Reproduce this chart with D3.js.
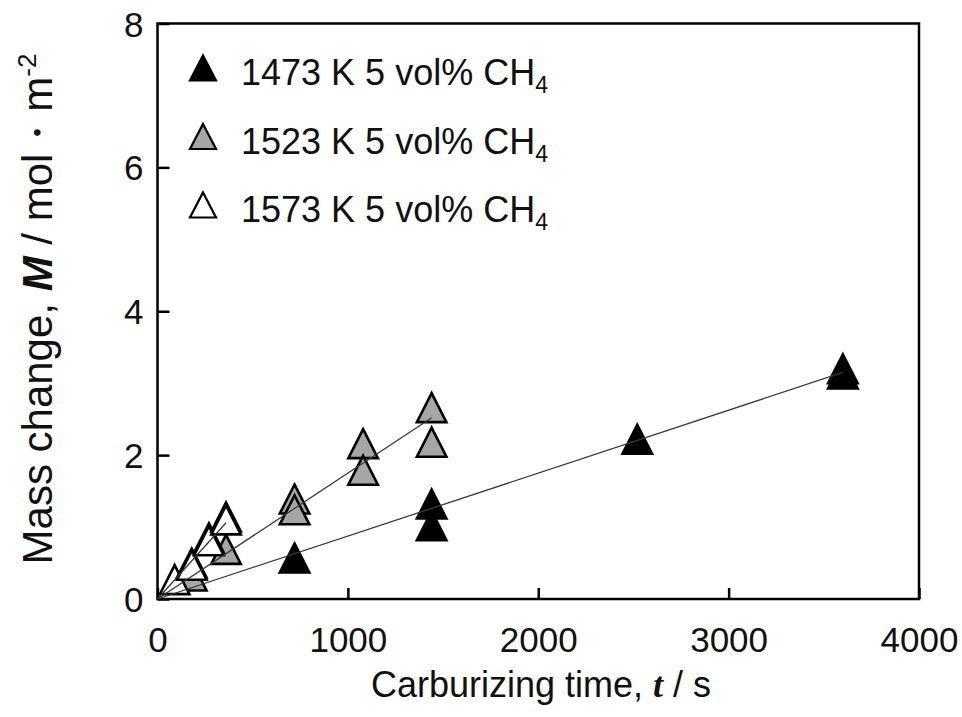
<!DOCTYPE html>
<html>
<head>
<meta charset="utf-8">
<script src="https://cdn.jsdelivr.net/npm/d3@7"></script>
<style>
  html, body { margin: 0; padding: 0; background: #fff; }
  svg { display: block; font-family: "Liberation Sans", Arial, sans-serif; }
</style>
</head>
<body>
<svg id="chart" width="962" height="717"></svg>
<script>
// Carburizing experiments: mass change vs time at three temperatures
const seriesNames = ["1473 K 5 vol% CH", "1523 K 5 vol% CH", "1573 K 5 vol% CH"];
const seriesFill = ["#000000", "#a6a6a6", "#ffffff"];

const t1473 = [720, 1440, 1440, 2520, 3600, 3600];
const m1473 = [0.57, 1.32, 1.02, 2.22, 3.20, 3.13];

const t1523 = [180, 360, 720, 720, 1080, 1080, 1440, 1440];
const m1523 = [0.32, 0.69, 1.39, 1.24, 2.16, 1.79, 2.66, 2.18];

const t1573 = [90, 180, 180, 270, 270, 360, 360];
const m1573 = [0.27, 0.50, 0.47, 0.85, 0.81, 1.14, 1.10];

// Straight-line fits through the origin (start and end of each line)
const fitT1473 = [0, 3600], fitM1473 = [0, 3.15];
const fitT1523 = [0, 1440], fitM1523 = [0, 2.52];
const fitT1573 = [0, 360],  fitM1573 = [0, 1.06];

const xTicks = [0, 1000, 2000, 3000, 4000];
const yTicks = [0, 2, 4, 6, 8];

const svg = d3.select("#chart");
const plotLeft = 157.5, plotRight = 919, plotTop = 23.5, plotBottom = 599;

const x = d3.scaleLinear().domain([0, 4000]).range([plotLeft, plotRight]);
const y = d3.scaleLinear().domain([0, 8]).range([plotBottom, plotTop]);

const TICK_FONT = 35, LEGEND_FONT = 36, XTITLE_FONT = 36, YTITLE_FONT = 42;

// Axes with inward ticks
const xAxis = svg.append("g").attr("transform", `translate(0,${plotBottom})`)
  .call(d3.axisBottom(x).tickValues(xTicks).tickSizeInner(-11).tickSizeOuter(0).tickFormat(d3.format("d")));
const yAxis = svg.append("g").attr("transform", `translate(${plotLeft},0)`)
  .call(d3.axisLeft(y).tickValues(yTicks).tickSizeInner(-12).tickSizeOuter(0).tickFormat(d3.format("d")));
[xAxis, yAxis].forEach(g => {
  g.select(".domain").remove();
  g.selectAll(".tick line").attr("stroke", "#000").attr("stroke-width", 2.5);
  g.selectAll(".tick text").attr("fill", "#111").style("font-size", TICK_FONT + "px")
    .style("font-family", "\"Liberation Sans\", Arial, sans-serif");
});
xAxis.selectAll(".tick text").attr("y", 28).attr("dy", "0.71em");
yAxis.selectAll(".tick text").attr("x", -14).attr("dy", "0.36em");

// Plot frame
svg.append("rect").attr("x", plotLeft).attr("y", plotTop)
  .attr("width", plotRight - plotLeft).attr("height", plotBottom - plotTop)
  .attr("fill", "none").attr("stroke", "#000").attr("stroke-width", 2.5);

// Triangle marker
function tri(w, h) {
  return `M0,${-h / 2}L${w / 2},${h / 2}L${-w / 2},${h / 2}Z`;
}

const series = [
  { t: t1473, m: m1473, fill: seriesFill[0] },
  { t: t1523, m: m1523, fill: seriesFill[1] },
  { t: t1573, m: m1573, fill: seriesFill[2] }
];
const fits = [
  { t: fitT1473, m: fitM1473 },
  { t: fitT1523, m: fitM1523 },
  { t: fitT1573, m: fitM1573 }
];

const marks = svg.append("g");
series.forEach(s => {
  marks.append("g").selectAll("path")
    .data(d3.range(s.t.length))
    .join("path")
    .attr("transform", i => `translate(${x(s.t[i])},${y(s.m[i])})`)
    .attr("d", tri(29.5, 29))
    .attr("fill", s.fill)
    .attr("stroke", "#000")
    .attr("stroke-width", 2.6)
    .attr("stroke-linejoin", "miter");
});

// Fit lines drawn above the markers
const line = d3.line().x(d => x(d[0])).y(d => y(d[1]));
fits.forEach(f => {
  svg.append("path")
    .datum(f.t.map((tt, i) => [tt, f.m[i]]))
    .attr("d", line)
    .attr("fill", "none")
    .attr("stroke", "#3a3a3a")
    .attr("stroke-width", 1.3);
});

// Legend
const legendY = [85, 153.5, 222];
const legend = svg.append("g");
seriesNames.forEach((name, i) => {
  legend.append("path")
    .attr("transform", `translate(203,${legendY[i] - 17})`)
    .attr("d", tri(26, 25))
    .attr("fill", seriesFill[i])
    .attr("stroke", "#000")
    .attr("stroke-width", 2.2);
  const txt = legend.append("text")
    .attr("x", 241).attr("y", legendY[i])
    .attr("fill", "#111")
    .style("font-size", LEGEND_FONT + "px");
  txt.append("tspan").text(name);
  txt.append("tspan").attr("dy", 8).style("font-size", "23px").text("4");
});

// Axis titles
const xt = svg.append("text")
  .attr("x", 541).attr("y", 697)
  .attr("text-anchor", "middle")
  .attr("fill", "#111")
  .style("font-size", XTITLE_FONT + "px");
xt.append("tspan").text("Carburizing time, ");
xt.append("tspan").style("font-family", "\"Liberation Serif\", \"Times New Roman\", serif")
  .style("font-weight", "bold").style("font-style", "italic").text("t");
xt.append("tspan").text(" / s");

const yt = svg.append("text")
  .attr("transform", "translate(52,309) rotate(-90)")
  .attr("text-anchor", "middle")
  .attr("fill", "#111")
  .style("font-size", YTITLE_FONT + "px");
yt.append("tspan").text("Mass change, ");
yt.append("tspan").style("font-weight", "bold").style("font-style", "italic").text("M");
yt.append("tspan").text(" / mol\u30FBm");
yt.append("tspan").attr("dy", -16).style("font-size", "26px").text("-2");
</script>
</body>
</html>
